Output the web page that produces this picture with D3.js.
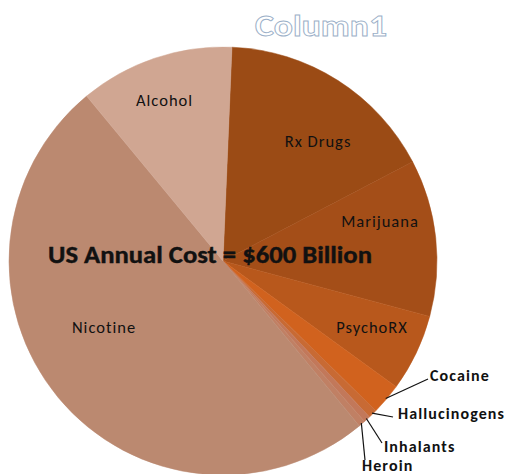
<!DOCTYPE html>
<html>
<head>
<meta charset="utf-8">
<script src="https://cdn.jsdelivr.net/npm/d3@7/dist/d3.min.js"></script>
<style>
  html, body { margin: 0; padding: 0; background: #fff; }
  svg { display: block; }
</style>
</head>
<body>
<svg id="chart" width="511" height="474"></svg>
<script>
// Annual cost by substance, billions of US dollars (total 600)
const categories = ["Rx Drugs", "Marijuana", "PsychoRX", "Cocaine", "Hallucinogens",
                    "Inhalants", "Heroin", "Nicotine", "Alcohol"];
const costs = [100, 71, 35, 14, 4, 3, 3, 300, 70];
const sliceColors = ["#9b4b15", "#a44e18", "#b8581c", "#d1621e", "#c86a34",
                     "#c2785a", "#c08064", "#bb8970", "#d0a692"];
const titleText = "Column1";
const headline = "US Annual Cost = $600 Billion";
// slices labelled inside the pie; the rest get leader lines
const insideLabels = ["Rx Drugs", "Marijuana", "PsychoRX", "Nicotine", "Alcohol"];

const svg = d3.select("#chart");
const cx = 223, cy = 261, r = 214;
const startDeg = 2.4;

const pie = d3.pie()
  .value(d => d.value)
  .sort(null)
  .startAngle(startDeg * Math.PI / 180)
  .endAngle((startDeg + 360) * Math.PI / 180);

const data = categories.map((c, i) => ({ name: c, value: costs[i], color: sliceColors[i] }));
const arcs = pie(data);
const arc = d3.arc().innerRadius(0).outerRadius(r);

const g = svg.append("g").attr("transform", `translate(${cx},${cy})`);

g.selectAll("path.slice")
  .data(arcs)
  .join("path")
  .attr("class", "slice")
  .attr("d", arc)
  .attr("fill", d => d.data.color)
  .attr("stroke", d => d.data.color)
  .attr("stroke-width", 0.5);

const font = "Carlito, Lato, 'Open Sans', sans-serif";

// inside label placement: angle shift (deg) from the slice middle and radius
const insidePlace = {
  "Rx Drugs":  { da: 6,   rr: 153 },
  "Marijuana": { da: -8,  rr: 162 },
  "PsychoRX":  { da: -1.6, rr: 163 },
  "Nicotine":  { da: 10.6, rr: 136 },
  "Alcohol":   { da: -1.4, rr: 171 }
};
const polar = (deg, rad) => [Math.sin(deg * Math.PI / 180) * rad, -Math.cos(deg * Math.PI / 180) * rad];

arcs.filter(a => insideLabels.includes(a.data.name)).forEach(a => {
  const p = insidePlace[a.data.name];
  const mid = (a.startAngle + a.endAngle) / 2 * 180 / Math.PI + p.da;
  const [x, y] = polar(mid, p.rr);
  g.append("text")
    .attr("x", x).attr("y", y)
    .attr("text-anchor", "middle")
    .attr("dominant-baseline", "central")
    .attr("font-family", font)
    .attr("font-size", 16.5)
    .attr("letter-spacing", 1)
    .attr("fill", "#111")
    .text(a.data.name);
});

// outside labels with leader lines (label anchor relative to pie centre)
const outsidePlace = {
  "Cocaine":       { lx: 205, ly: 118, tx: 207, ty: 114 },
  "Hallucinogens": { lx: 170, ly: 156, tx: 175, ty: 152 },
  "Inhalants":     { lx: 159, ly: 182, tx: 161, ty: 185 },
  "Heroin":        { lx: 142, ly: 199, tx: 139, ty: 204 }
};
arcs.filter(a => !insideLabels.includes(a.data.name)).forEach(a => {
  const p = outsidePlace[a.data.name];
  const mid = (a.startAngle + a.endAngle) / 2 * 180 / Math.PI;
  const [x0, y0] = polar(mid, r - 1);
  g.append("line")
    .attr("x1", x0).attr("y1", y0)
    .attr("x2", p.lx).attr("y2", p.ly)
    .attr("stroke", "#111").attr("stroke-width", 1.2);
  g.append("text")
    .attr("x", p.tx).attr("y", p.ty)
    .attr("dominant-baseline", "central")
    .attr("font-family", font)
    .attr("font-size", 16)
    .attr("letter-spacing", 1.1)
    .attr("font-weight", "bold")
    .attr("fill", "#111")
    .text(a.data.name);
});

// headline across the pie
svg.append("text")
  .attr("x", 48).attr("y", 263)
  .attr("textLength", 324)
  .attr("lengthAdjust", "spacingAndGlyphs")
  .attr("font-family", font)
  .attr("font-size", 24)
  .attr("font-weight", "bold")
  .attr("fill", "#111")
  .attr("stroke", "#111")
  .attr("stroke-width", 0.4)
  .text(headline);

// outlined chart title
svg.append("text")
  .attr("x", 255).attr("y", 36)
  .attr("textLength", 132)
  .attr("lengthAdjust", "spacingAndGlyphs")
  .attr("font-family", font)
  .attr("font-size", 31)
  .attr("font-weight", "bold")
  .attr("fill", "#ffffff")
  .attr("stroke", "#9bb0c8")
  .attr("stroke-width", 0.9)
  .text(titleText);
</script>
</body>
</html>
